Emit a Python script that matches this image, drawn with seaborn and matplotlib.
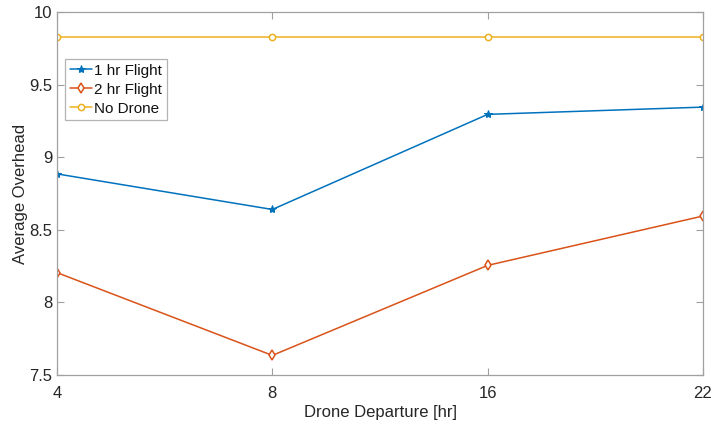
import matplotlib
matplotlib.use("Agg")
import matplotlib.pyplot as plt
import seaborn as sns
import pandas as pd
import numpy as np

departures = ["4", "8", "16", "22"]
one_hr = [8.885, 8.64, 9.295, 9.345]
two_hr = [8.205, 7.635, 8.255, 8.595]
no_drone = [9.83, 9.83, 9.83, 9.83]
series_names = ["1 hr Flight", "2 hr Flight", "No Drone"]

sns.set_theme(style="white")
plt.rcParams["font.family"] = ["Liberation Sans", "DejaVu Sans"]
fs = 12

rows = []
for name, vals in zip(series_names, [one_hr, two_hr, no_drone]):
    for i, v in enumerate(vals):
        rows.append({"pos": i, "val": v, "series": name})
df = pd.DataFrame(rows)

colors = {"1 hr Flight": "#0072BD", "2 hr Flight": "#D95319", "No Drone": "#EDB120"}
markers = {"1 hr Flight": "*", "2 hr Flight": "d", "No Drone": "o"}

fig = plt.figure(figsize=(7.14, 4.28), dpi=100)
ax = fig.add_axes([57/714, 1 - 375/428, (703-57)/714, (375-12)/428])

sns.lineplot(data=df, x="pos", y="val", hue="series", style="series",
             palette=colors, markers=markers, dashes=False, ax=ax,
             linewidth=1.1, markersize=6, legend=True)

def style_line(line, name):
    c = colors[name]
    line.set_linewidth(1.1)
    if name == "1 hr Flight":
        line.set_markerfacecolor(c)
        line.set_markeredgecolor(c)
        line.set_markersize(6)
    else:
        line.set_markerfacecolor("white")
        line.set_markeredgecolor(c)
        line.set_markeredgewidth(1.1)
        line.set_markersize(5.2 if name == "2 hr Flight" else 4.5)

for line, name in zip(ax.lines[:3], series_names):
    style_line(line, name)

ax.set_xlim(0, 3)
ax.set_ylim(7.5, 10)
ax.set_xticks(range(len(departures)))
ax.set_xticklabels(departures)
ax.set_yticks([7.5, 8, 8.5, 9, 9.5, 10])
ax.set_yticklabels(["7.5", "8", "8.5", "9", "9.5", "10"])

tc = "#262626"
ax.set_xlabel("Drone Departure [hr]", fontsize=fs, color=tc)
ax.set_ylabel("Average Overhead", fontsize=fs, color=tc)
ax.xaxis.set_label_coords(0.5, -0.082)
ax.yaxis.set_label_coords(-0.045, 0.5)
ax.tick_params(direction="in", length=5, width=0.8, colors="#a0a0a0",
               labelcolor=tc, labelsize=fs, top=True, right=True,
               bottom=True, left=True)
ax.tick_params(axis="x", pad=8)
ax.tick_params(axis="y", pad=3.5)
for s in ax.spines.values():
    s.set_visible(True)
    s.set_color("#a0a0a0")
    s.set_linewidth(0.9)

handles, labels = ax.get_legend_handles_labels()
for h, name in zip(handles, labels):
    style_line(h, name)
leg = ax.legend(handles, labels, loc="upper left", bbox_to_anchor=(0.0125, 0.87),
                fontsize=11, frameon=True, fancybox=False, edgecolor="#a0a0a0",
                handlelength=1.45, handletextpad=0.15, borderpad=0.3, labelspacing=0.32,
                borderaxespad=0)
for t in leg.get_texts():
    t.set_color("#111111")
leg.get_frame().set_linewidth(0.9)

fig.savefig("out.png", dpi=100)
